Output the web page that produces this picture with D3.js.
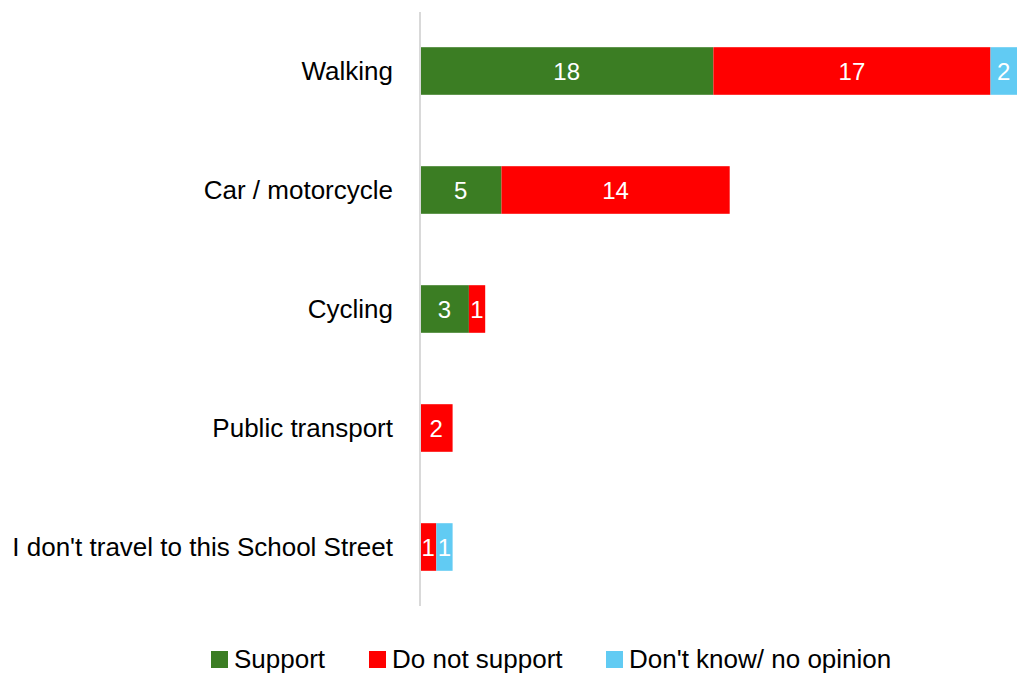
<!DOCTYPE html>
<meta charset="utf-8">
<script src="https://cdn.jsdelivr.net/npm/d3@7"></script>
<style>
  body { margin: 0; background: #fff; }
</style>
<div id="my_dataviz"></div>
<script>

// data
var categories = ["Walking", "Car / motorcycle", "Cycling", "Public transport", "I don't travel to this School Street"];
var seriesNames = ["Support", "Do not support", "Don't know/ no opinion"];
var support = [18, 5, 3, 0, 0];
var notSupport = [17, 14, 1, 2, 1];
var dontKnow = [2, 0, 0, 0, 1];
var colors = ["#3b7d23", "#ff0000", "#61cbf3"];

var width = 1017, height = 675;
var font = "'Liberation Sans', Arial, sans-serif";

var svg = d3.select("#my_dataviz")
  .append("svg")
    .attr("width", width)
    .attr("height", height);

var rows = categories.map(function(c, i) {
  return {cat: c, Support: support[i], "Do not support": notSupport[i], "Don't know/ no opinion": dontKnow[i]};
});
var stacked = d3.stack().keys(seriesNames)(rows);

var xScale = d3.scaleLinear().domain([0, 37]).range([420, 420 + 37 * 16.3]);
var yScale = d3.scaleBand().domain(categories).range([11.5, 606.5])
  .paddingInner(0.6).paddingOuter(0.3);
var cScale = d3.scaleOrdinal().domain(seriesNames).range(colors);

// bars
stacked.forEach(function(s) {
  var g = svg.append("g");
  g.selectAll("rect")
    .data(s.filter(function(d) { return d[1] > d[0]; }))
    .enter()
    .append("rect")
      .attr("x", function(d) { return xScale(d[0]); })
      .attr("y", function(d) { return yScale(d.data.cat); })
      .attr("width", function(d) { return xScale(d[1]) - xScale(d[0]); })
      .attr("height", yScale.bandwidth())
      .style("fill", cScale(s.key));
  g.selectAll("text")
    .data(s.filter(function(d) { return d[1] > d[0]; }))
    .enter()
    .append("text")
      .attr("x", function(d) { return (xScale(d[0]) + Math.min(xScale(d[1]), width)) / 2; })
      .attr("y", function(d) { return yScale(d.data.cat) + yScale.bandwidth() / 2; })
      .attr("dy", "0.36em")
      .attr("text-anchor", "middle")
      .style("font-family", font)
      .style("font-size", "24px")
      .style("fill", "#fff")
      .text(function(d) { return d[1] - d[0]; });
});

// axis line
svg.append("line")
  .attr("x1", xScale(0)).attr("x2", xScale(0))
  .attr("y1", 12).attr("y2", 606)
  .style("stroke", "#d9d9d9")
  .style("stroke-width", 2);

// category labels
svg.append("g").selectAll("text")
  .data(categories)
  .enter()
  .append("text")
    .attr("x", 393)
    .attr("y", function(d) { return yScale(d) + yScale.bandwidth() / 2; })
    .attr("dy", "0.36em")
    .attr("text-anchor", "end")
    .style("font-family", font)
    .style("font-size", "26px")
    .style("fill", "#000")
    .text(function(d) { return d; });

// legend
var legendX = [211, 369, 606];
seriesNames.forEach(function(n, i) {
  svg.append("rect")
    .attr("x", legendX[i])
    .attr("y", 651)
    .attr("width", 17)
    .attr("height", 17)
    .style("fill", colors[i]);
  svg.append("text")
    .attr("x", legendX[i] + 23)
    .attr("y", 668)
    .style("font-family", font)
    .style("font-size", "26px")
    .style("fill", "#000")
    .text(n);
});

</script>
